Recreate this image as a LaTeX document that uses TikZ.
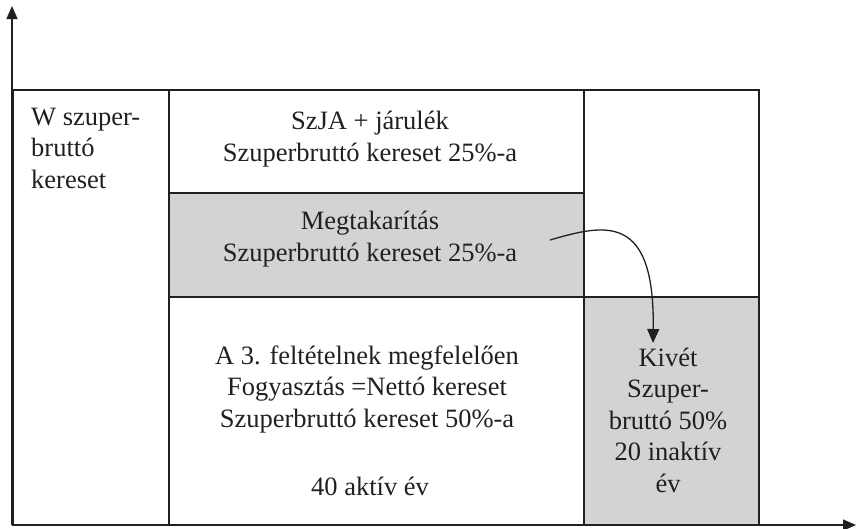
\documentclass[tikz,border=0pt]{standalone}
\usepackage{fontspec}
\setmainfont{Liberation Serif}
\usetikzlibrary{arrows.meta}
\definecolor{boxgray}{HTML}{D1D3D4}
\definecolor{ink}{HTML}{231F20}
\tikzset{
  cell/.style={draw=ink, line width=2.4pt, rectangle, inner sep=0pt, anchor=north west},
  axis/.style={draw=ink, line width=1.3pt, -{Triangle[length=13pt,width=11pt]}},
  flow/.style={draw=ink, line width=1.3pt, -{Triangle[length=14pt,width=12pt]}},
  txt/.style={font=\fontsize{26.5}{31.5}\selectfont, text=ink, inner sep=0pt, align=center},
}
\begin{document}
\begin{tikzpicture}[x=1pt,y=-1pt]
\useasboundingbox (0,0) rectangle (856,528);
% cells
\node[cell, minimum width=156pt, minimum height=435pt] (wcell) at (12,89) {};
\node[cell, minimum width=415pt, minimum height=103pt] (szja) at (168,89) {};
\node[cell, fill=boxgray, minimum width=415pt, minimum height=104pt] (megt) at (168,192) {};
\node[cell, minimum width=415pt, minimum height=228pt] (fogy) at (168,296) {};
\node[cell, minimum width=175pt, minimum height=207pt] (topr) at (583,89) {};
\node[cell, fill=boxgray, minimum width=175pt, minimum height=228pt] (kivet) at (583,296) {};
% axes
\coordinate (origin) at (12,525);
\coordinate (ytop) at (12,6);
\coordinate (xend) at (856,525);
\draw[axis] (origin) -- (ytop);
\draw[axis] (origin) -- (xend);
% texts
\node[txt, align=left, anchor=west] (wt) at (31,148) {W szuper-\\bruttó\\kereset};
\node[txt] (szjat) at (370,139) {SzJA + járulék\\Szuperbruttó kereset 25\%-a};
\node[txt] (megtt) at (370,239) {Megtakarítás\\Szuperbruttó kereset 25\%-a};
\node[txt] (fogyt) at (367,389) {A 3. feltételnek megfelelően\\Fogyasztás =Nettó kereset\\Szuperbruttó kereset 50\%-a};
\node[txt] (aktiv) at (370,486) {40 aktív év};
\node[txt] (kivett) at (668,420) {Kivét\\Szuper-\\bruttó 50\%\\20 inaktív\\év};
% flow arrow
\coordinate (fstart) at (550,240);
\coordinate (fend) at (653,343);
\draw[flow] (fstart) .. controls (605,224) and (655,212) .. (fend);
\end{tikzpicture}
\end{document}
